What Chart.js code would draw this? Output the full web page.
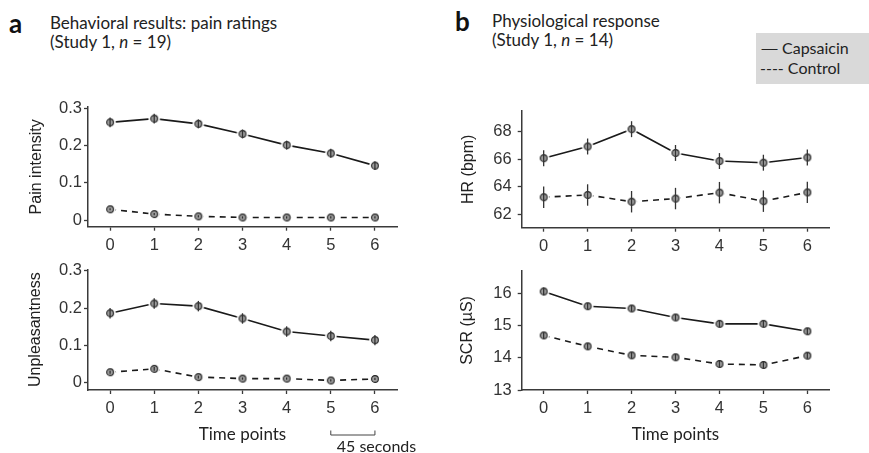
<!DOCTYPE html>
<html>
<head>
<meta charset="utf-8">
<script src="https://cdn.jsdelivr.net/npm/chart.js@4.4.1/dist/chart.umd.min.js"></script>
<style>
    body { margin: 0; width: 869px; height: 453px; background: #fff; position: relative; overflow: hidden; font-family: Lato, sans-serif; color: #222; }
    canvas { position: absolute; }
    .letter { position: absolute; font-weight: bold; font-size: 26px; line-height: 26px; color: #111; }
    .heading { position: absolute; font-size: 17px; line-height: 19px; color: #222; }
    .legend { position: absolute; left: 756px; top: 33px; width: 113px; height: 51px; background: #d9d9d9; font-size: 16px; line-height: 20px; box-sizing: border-box; padding: 5px 0 0 4px; color: #222; }
    .legend .dash { display: inline-block; width: 22px; transform: scaleX(1.5); transform-origin: left center; }
</style>
</head>
<body>
<div class="letter" style="left:9px; top:10px;">a</div>
<div class="heading" style="left:50px; top:13px;">Behavioral results: pain ratings<br>(Study 1, <i>n</i> = 19)</div>
<div class="letter" style="left:455px; top:8px;">b</div>
<div class="heading" style="left:492px; top:11px;">Physiological response<br>(Study 1, <i>n</i> = 14)</div>
<div class="legend"><span class="dash">—</span>Capsaicin<br>---- Control</div>

<canvas id="painChart" width="420" height="165" style="left:0; top:95px;"></canvas>
<canvas id="unplChart" width="420" height="198" style="left:0; top:255px;"></canvas>
<canvas id="hrChart" width="420" height="165" style="left:440px; top:95px;"></canvas>
<canvas id="scrChart" width="420" height="198" style="left:440px; top:255px;"></canvas>

<script>
// time points shared by every panel
const timePoints = [0, 1, 2, 3, 4, 5, 6];

// pain intensity
const painCaps = [0.262, 0.272, 0.258, 0.231, 0.201, 0.179, 0.146];
const painCapsErr = [0.013, 0.013, 0.012, 0.012, 0.012, 0.012, 0.012];
const painCtrl = [0.029, 0.016, 0.010, 0.007, 0.007, 0.007, 0.007];
const painCtrlErr = [0.003, 0.003, 0.003, 0.003, 0.003, 0.003, 0.003];
const painTicks = [0, 0.1, 0.2, 0.3];

// unpleasantness
const unplCaps = [0.186, 0.212, 0.205, 0.172, 0.137, 0.125, 0.114];
const unplCapsErr = [0.014, 0.014, 0.014, 0.014, 0.014, 0.014, 0.014];
const unplCtrl = [0.028, 0.037, 0.015, 0.011, 0.011, 0.006, 0.010];
const unplCtrlErr = [0.004, 0.005, 0.004, 0.003, 0.003, 0.003, 0.003];
const unplTicks = [0, 0.1, 0.2, 0.3];

// heart rate
const hrCaps = [66.09, 66.94, 68.20, 66.47, 65.88, 65.76, 66.14];
const hrCapsErr = [0.58, 0.58, 0.58, 0.58, 0.58, 0.58, 0.58];
const hrCtrl = [63.25, 63.41, 62.92, 63.15, 63.58, 62.96, 63.60];
const hrCtrlErr = [0.78, 0.78, 0.78, 0.78, 0.78, 0.78, 0.78];
const hrTicks = [62, 64, 66, 68];

// skin conductance
const scrCaps = [16.07, 15.61, 15.54, 15.26, 15.06, 15.06, 14.83];
const scrCapsErr = [0.12, 0.1, 0.1, 0.1, 0.1, 0.1, 0.1];
const scrCtrl = [14.70, 14.36, 14.08, 14.02, 13.81, 13.78, 14.07];
const scrCtrlErr = [0.1, 0.1, 0.1, 0.1, 0.1, 0.1, 0.1];
const scrTicks = [13, 14, 15, 16];

const AXIS_COLOR = '#3a3a3a';
const TICK_FONT = {family: '"Liberation Sans", Arial, sans-serif', size: 16.5};

/**
 * Marker sprite: grey dot with a white halo so the line stops short of it
 */
function makeMarker() {
    const c = document.createElement('canvas');
    c.width = 14; c.height = 14;
    const g = c.getContext('2d');
    g.fillStyle = '#fff';
    g.beginPath(); g.arc(7, 7, 5.8, 0, Math.PI * 2); g.fill();
    g.fillStyle = '#9d9d9d';
    g.strokeStyle = '#222';
    g.lineWidth = 1.1;
    g.beginPath(); g.arc(7, 7, 3.4, 0, Math.PI * 2); g.fill(); g.stroke();
    return c;
}
const marker = makeMarker();

/**
 * Vertical error bars drawn over the markers
 */
const errorBarsPlugin = {
    id: 'errorBars',
    afterDatasetsDraw(chart, args, opts) {
        const {ctx, scales: {x, y}} = chart;
        ctx.save();
        ctx.strokeStyle = '#333';
        ctx.lineWidth = 1.3;
        chart.data.datasets.forEach((ds, i) => {
            const errs = opts.errors[i] || [];
            ds.data.forEach((p, j) => {
                const e = errs[j];
                if (!e) return;
                const px = x.getPixelForValue(p.x);
                ctx.beginPath();
                ctx.moveTo(px, y.getPixelForValue(p.y - e));
                ctx.lineTo(px, y.getPixelForValue(p.y + e));
                ctx.stroke();
            });
        });
        ctx.restore();
    }
};

/**
 * Bracket under two ticks with a duration note
 */
const spanBracketPlugin = {
    id: 'spanBracket',
    afterDraw(chart, args, opts) {
        const {ctx} = chart;
        const x = chart.scales.x;
        const x0 = x.getPixelForValue(opts.from);
        const x1 = x.getPixelForValue(opts.to);
        ctx.save();
        ctx.strokeStyle = '#444';
        ctx.lineWidth = 1;
        ctx.beginPath();
        ctx.moveTo(x0, opts.top);
        ctx.lineTo(x0, opts.bottom);
        ctx.lineTo(x1, opts.bottom);
        ctx.lineTo(x1, opts.top);
        ctx.stroke();
        ctx.fillStyle = '#222';
        ctx.font = '16px Lato, sans-serif';
        ctx.textBaseline = 'middle';
        ctx.fillText(opts.label, x0 + 6, opts.textY);
        ctx.restore();
    }
};

function toPoints(values) {
    return values.map((v, i) => ({x: timePoints[i], y: v}));
}

/**
 * Build one panel: capsaicin (solid) vs control (dashed)
 */
function makePanel(id, cfg) {
    const series = (values, dash) => ({
        data: toPoints(values),
        borderColor: '#1a1a1a',
        borderWidth: 1.6,
        borderDash: dash,
        pointStyle: marker,
        pointRadius: 6,
        tension: 0
    });

    return new Chart(document.getElementById(id), {
        type: 'line',
        data: {
            datasets: [series(cfg.caps, []), series(cfg.ctrl, [6, 5])]
        },
        plugins: [errorBarsPlugin].concat(cfg.extraPlugins || []),
        options: {
            responsive: false,
            animation: false,
            events: [],
            layout: {padding: {left: 0, right: cfg.padRight, top: cfg.padTop, bottom: 0}},
            plugins: {
                legend: {display: false},
                tooltip: {enabled: false},
                errorBars: {errors: [cfg.capsErr, cfg.ctrlErr]},
                spanBracket: cfg.bracket || {}
            },
            scales: {
                x: {
                    type: 'linear',
                    min: -0.5,
                    max: 6.5,
                    afterBuildTicks: a => { a.ticks = timePoints.map(v => ({value: v})); },
                    afterFit: s => { s.height = cfg.xHeight; },
                    ticks: {font: TICK_FONT, color: '#333', padding: 5, maxRotation: 0, autoSkip: false, callback: v => String(v)},
                    grid: {drawOnChartArea: false, drawTicks: true, tickLength: 4, tickWidth: 1.3, tickColor: AXIS_COLOR},
                    border: {display: true, color: AXIS_COLOR, width: 1.5},
                    title: {
                        display: !!cfg.xTitle,
                        text: cfg.xTitle || '',
                        color: '#222',
                        font: {family: 'Lato, sans-serif', size: 17},
                        padding: {top: 0, bottom: 8}
                    }
                },
                y: {
                    type: 'linear',
                    min: cfg.yMin,
                    max: cfg.yMax,
                    afterBuildTicks: a => { a.ticks = cfg.yTicks.map(v => ({value: v})); },
                    afterFit: s => { s.width = cfg.yWidth; },
                    ticks: {font: TICK_FONT, color: '#333', padding: cfg.yTickPad, callback: v => String(v)},
                    grid: {drawOnChartArea: false, drawTicks: true, tickLength: 4, tickWidth: 1.3, tickColor: AXIS_COLOR},
                    border: {display: true, color: AXIS_COLOR, width: 1.5},
                    title: {
                        display: true,
                        text: cfg.yTitle,
                        color: '#222',
                        font: {family: '"Liberation Sans", Arial, sans-serif', size: 16},
                        padding: {top: cfg.yTitlePad, bottom: 0}
                    }
                }
            }
        }
    });
}

makePanel('painChart', {
    caps: painCaps, capsErr: painCapsErr, ctrl: painCtrl, ctrlErr: painCtrlErr,
    yTicks: painTicks, yMin: -0.0178, yMax: 0.3035, yTitle: 'Pain intensity',
    yWidth: 88, padRight: 23, padTop: 11, xHeight: 33.3, yTickPad: 2, yTitlePad: 27
});

makePanel('unplChart', {
    caps: unplCaps, capsErr: unplCapsErr, ctrl: unplCtrl, ctrlErr: unplCtrlErr,
    yTicks: unplTicks, yMin: -0.0196, yMax: 0.3037, yTitle: 'Unpleasantness',
    yWidth: 88, padRight: 23, padTop: 14.3, xHeight: 63, yTickPad: 2, yTitlePad: 26.4,
    xTitle: 'Time points',
    extraPlugins: [spanBracketPlugin],
    bracket: {from: 5, to: 6, top: 175.5, bottom: 180, textY: 192, label: '45 seconds'}
});

makePanel('hrChart', {
    caps: hrCaps, capsErr: hrCapsErr, ctrl: hrCtrl, ctrlErr: hrCtrlErr,
    yTicks: hrTicks, yMin: 61.03, yMax: 69.53, yTitle: 'HR (bpm)',
    yWidth: 81.7, padRight: 30.7, padTop: 12.3, xHeight: 32.3, yTickPad: 6, yTitlePad: 18.7
});

makePanel('scrChart', {
    caps: scrCaps, capsErr: scrCapsErr, ctrl: scrCtrl, ctrlErr: scrCtrlErr,
    yTicks: scrTicks, yMin: 13, yMax: 16.71, yTitle: 'SCR (µS)',
    yWidth: 81.7, padRight: 30.7, padTop: 13.3, xHeight: 63, yTickPad: 6, yTitlePad: 18.4,
    xTitle: 'Time points'
});
</script>
</body>
</html>
